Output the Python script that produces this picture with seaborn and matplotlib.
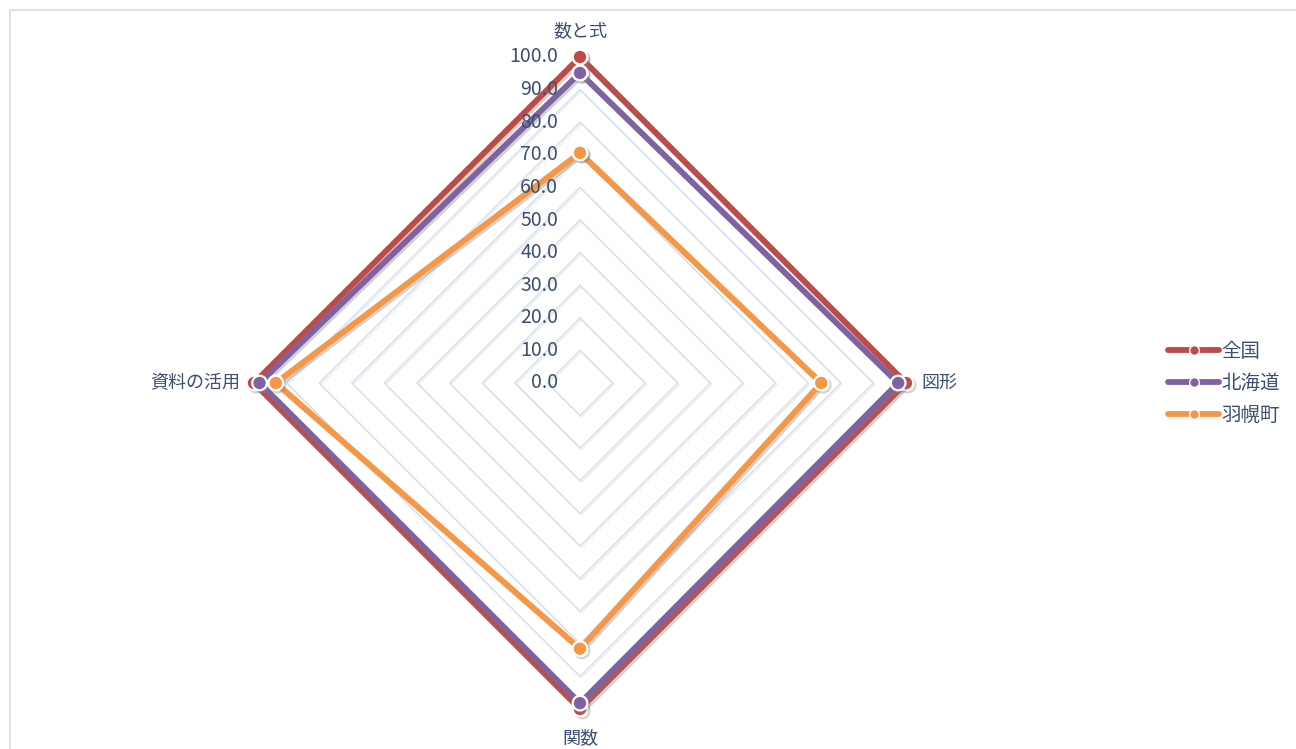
import numpy as np
import pandas as pd
import seaborn as sns
import matplotlib.pyplot as plt
import matplotlib.patheffects as pe
from matplotlib.lines import Line2D
from matplotlib.patches import Rectangle

# data .......................................................
categories = ['数と式', '図形', '関数', '資料の活用']
zenkoku = [100.0, 100.0, 100.0, 100.0]
hokkaido = [95.1, 97.6, 98.2, 98.3]
haboro = [70.6, 74.0, 81.5, 93.3]
series_names = ['全国', '北海道', '羽幌町']
colors = ['#be4b48', '#7f63a1', '#f59745']
ticks = [0, 10, 20, 30, 40, 50, 60, 70, 80, 90, 100]

sns.set_theme(style='white')
plt.rcParams['font.family'] = ['Noto Sans CJK JP', 'DejaVu Sans']

# angles clockwise from the top
theta = np.deg2rad([0, 90, 180, 270])


def to_xy(vals):
    r = np.array(vals + vals[:1])
    t = np.append(theta, theta[0])
    return r * np.sin(t), r * np.cos(t)


rows = []
for name, vals in zip(series_names, [zenkoku, hokkaido, haboro]):
    x, y = to_xy(vals)
    for i, (xx, yy) in enumerate(zip(x, y)):
        rows.append({'series': name, 'order': i, 'x': xx, 'y': yy})
df = pd.DataFrame(rows)

fig = plt.figure(figsize=(12.96, 7.49), dpi=100)
ax = fig.add_axes([0, 0, 1, 1])
scale = 3.26  # px per unit
ax.set_xlim(-580 / scale, 716 / scale)
ax.set_ylim(-366 / scale, 383 / scale)
ax.axis('off')

# diamond grid
for t in ticks[1:]:
    gx, gy = to_xy([t] * 4)
    ax.plot(gx, gy, color='#d6dfe9', lw=1.0, zorder=1,
            path_effects=[pe.SimpleLineShadow(offset=(1, -1), shadow_color='#e9edf2', alpha=1),
                          pe.Normal()])

# series
shadow = [pe.SimpleLineShadow(offset=(1.5, -1.5), shadow_color='gray', alpha=0.35), pe.Normal()]
for name, col in zip(series_names, colors):
    sub = df[df['series'] == name]
    sns.lineplot(data=sub, x='x', y='y', sort=False, estimator=None, ax=ax,
                 color=col, lw=4.2, marker='o', markersize=10.5,
                 markeredgecolor='white', markeredgewidth=1.6,
                 path_effects=shadow, zorder=3, legend=False)

# radial tick labels
for t in ticks:
    ax.text(-6.7, t, f'{t:.1f}', ha='right', va='center', fontsize=14,
            color='#3d4f6e', zorder=5)

# category labels
lab = dict(fontsize=13, color='#3d4f6e')
ax.text(0, 108, categories[0], ha='center', va='center', **lab)
ax.text(104.6, 0, categories[1], ha='left', va='center', **lab)
ax.text(0, -109, categories[2], ha='center', va='center', **lab)
ax.text(-104.3, 0, categories[3], ha='right', va='center', **lab)

# legend
handles = [Line2D([0], [0], color=c, lw=4.2, marker='o', markersize=7,
                  markeredgecolor='white', markeredgewidth=1) for c in colors]
leg = fig.legend(handles, series_names, loc='center left', bbox_to_anchor=(0.888, 0.488),
                 frameon=False, fontsize=14, handlelength=2.6, handletextpad=0.1,
                 labelspacing=0.55)
for txt in leg.get_texts():
    txt.set_color('#3d4f6e')

# chart border
fig.patches.append(Rectangle((10 / 1296, -0.01), 1.0, 1 - 10 / 749 + 0.01,
                             transform=fig.transFigure, fill=False,
                             edgecolor='#d5dde8', lw=1.2))

fig.savefig('out.png', dpi=100)
